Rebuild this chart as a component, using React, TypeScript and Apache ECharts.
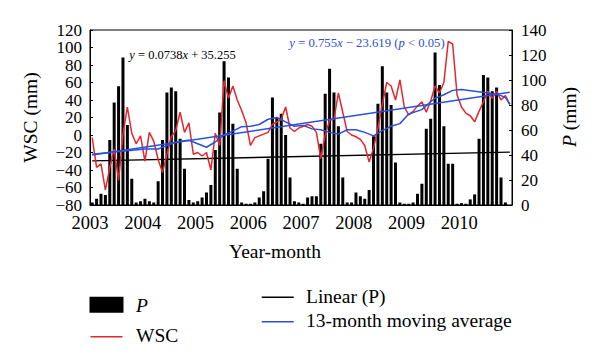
import React, { useEffect, useRef } from 'react';
import * as echarts from 'echarts';

// Year labels at the start of each year (months counted from Jan 2003)
const YEARS = ['2003', '2004', '2005', '2006', '2007', '2008', '2009', '2010'];

// Monthly precipitation P (mm), Jan 2003 – Dec 2010 (right axis)
const P_2003 = [2, 5, 9, 8, 52, 82, 95, 118, 64, 21, 2, 3];
const P_2004 = [5, 3, 2, 19, 52, 90, 94, 91, 53, 29, 4, 2];
const P_2005 = [3, 6, 10, 16, 44, 74, 115, 102, 65, 29, 2, 1];
const P_2006 = [1, 2, 6, 11, 37, 86, 70, 73, 56, 22, 3, 2];
const P_2007 = [1, 6, 7, 7, 49, 89, 109, 90, 63, 22, 2, 2];
const P_2008 = [10, 7, 5, 12, 55, 81, 111, 90, 80, 34, 2, 1];
const P_2009 = [1, 2, 9, 17, 61, 69, 122, 96, 63, 33, 33, 1];
const P_2010 = [1.5, 1, 4.5, 8.5, 53, 104, 102, 91, 94, 22, 2, 0];

// Monthly WSC (mm), Jan 2003 – Dec 2010 (left axis)
const WSC_2003 = [-3, -37, -33, -63, -37, -16, -52, 1, 32, 2, -10, -1];
const WSC_2004 = [-30, 3, -7, -28, -43, -22, -2, 5, 26, 3, 14, -22];
const WSC_2005 = [-20, -24, -20, -40, 2, -12, 62, 42, 56, 40, 28, 14];
const WSC_2006 = [-12, -3, -1, 1, 3, 12, 15, 18, 32, 8, 4, 8];
const WSC_2007 = [10, 12, 10, 3, -27, 0, 17, 18, 48, 26, 4, 0];
const WSC_2008 = [-2, -5, -12, -31, -15, 8, 35, 60, 56, 40, 63, 32];
const WSC_2009 = [23, 27, 33, 38, 26, 39, 56, 48, 60, 107, 104, 46];
const WSC_2010 = [32, 25, 22, 15, 27, 38, 50, 42, 50, 40, 45, 35];

// 13-month moving average of WSC, read at [month index, value]
const MOVING_AVG: [number, number][] = [
  [0, -22], [4, -20], [8, -18], [12, -16], [15, -16], [18, -10], [20, -7], [22, -6],
  [24, -10], [26, -14], [28, -8], [30, 0], [32, 4.5], [34, 9.5], [36, 10], [38, 12],
  [40, 18], [42, 20], [44, 15], [46, 10], [48, 11], [50, 7], [52, 6], [54, 3],
  [56, 1], [58, 6], [60, 6], [62, 3], [64, -1], [66, 5], [68, 10], [70, 13],
  [72, 24], [75, 29], [77, 38], [78, 42], [80, 46], [82, 51], [84, 52], [87, 50],
  [90, 48], [93, 45], [94, 43], [95, 35],
];

// Linear trends: end points [month index, value]
const LINEAR_P: [number, number][] = [[0, 35.3], [95, 42.3]];
const LINEAR_WSC: [number, number][] = [[0, -22.9], [95, 48.9]];

// Legend entries
const LEGEND_LEFT = ['P', 'WSC'];
const LEGEND_RIGHT = ['Linear (P)', '13-month moving average'];

const P_MM = [...P_2003, ...P_2004, ...P_2005, ...P_2006, ...P_2007, ...P_2008, ...P_2009, ...P_2010];
const WSC_MM = [...WSC_2003, ...WSC_2004, ...WSC_2005, ...WSC_2006, ...WSC_2007, ...WSC_2008, ...WSC_2009, ...WSC_2010];

const FONT = '"Liberation Serif", "Times New Roman", serif';
const BLUE = '#2B50D8';
const RED = '#E5262B';

const minus = (v: number) => (v < 0 ? '\u2212' + Math.abs(v) : String(v));

export default function App() {
  const ref = useRef<HTMLDivElement>(null);

  useEffect(() => {
    if (!ref.current) return;
    const chart = echarts.init(ref.current, null, { renderer: 'svg' });
    const mx = (i: number) => i + 0.5;

    const axisCommon = {
      axisLine: { show: true, onZero: false, lineStyle: { color: '#000', width: 1 } },
      axisTick: { show: true, inside: true, length: 3, lineStyle: { color: '#000' } },
      splitLine: { show: false },
    };
    const tickLabel = {
      color: '#000',
      fontFamily: FONT,
      fontSize: 17,
      lineHeight: 14,
      showMinLabel: true,
      showMaxLabel: true,
      hideOverlap: false,
    };

    const legendTextStyle = (text: string, x: number, y: number, italic = false) => ({
      type: 'text',
      x,
      y,
      style: {
        text,
        fill: '#000',
        fontFamily: FONT,
        fontSize: 19.5,
        fontStyle: italic ? 'italic' : 'normal',
        align: 'left',
        verticalAlign: 'middle',
      },
    });
    const legendLine = (x: number, y: number, color: string) => ({
      type: 'line',
      shape: { x1: x, y1: y, x2: x + 32, y2: y },
      style: { stroke: color, lineWidth: 1.5 },
    });

    chart.setOption({
      animation: false,
      backgroundColor: '#fff',
      grid: { left: 90, right: 88, top: 30, bottom: 158, show: true, borderColor: '#000', borderWidth: 1 },
      xAxis: {
        type: 'value',
        min: 0,
        max: 96,
        interval: 12,
        axisLine: { show: true, onZero: false, lineStyle: { color: '#000', width: 1 } },
        axisTick: { show: false },
        splitLine: { show: false },
        axisLabel: {
          color: '#000',
          fontFamily: FONT,
          fontSize: 18.5,
          margin: 8,
          formatter: (v: number) => YEARS[Math.round(v / 12)] ?? '',
        },
      },
      yAxis: [
        {
          type: 'value',
          min: -80,
          max: 120,
          interval: 20,
          position: 'left',
          ...axisCommon,
          axisLabel: { ...tickLabel, margin: 8, formatter: minus },
        },
        {
          type: 'value',
          min: 0,
          max: 140,
          interval: 20,
          position: 'right',
          ...axisCommon,
          axisLabel: { ...tickLabel, margin: 9 },
        },
      ],
      series: [
        {
          name: 'P',
          type: 'bar',
          yAxisIndex: 1,
          barWidth: 3,
          itemStyle: { color: '#000' },
          data: P_MM.map((v, i) => [mx(i), v]),
        },
        {
          name: 'Linear (P)',
          type: 'line',
          yAxisIndex: 1,
          symbol: 'none',
          color: '#000',
          lineStyle: { color: '#000', width: 1.5 },
          data: LINEAR_P.map(([i, v]) => [mx(i), v]),
        },
        {
          name: 'WSC',
          type: 'line',
          yAxisIndex: 0,
          symbol: 'none',
          color: RED,
          lineStyle: { color: RED, width: 1.5 },
          data: WSC_MM.map((v, i) => [mx(i), v]),
        },
        {
          name: '13-month moving average',
          type: 'line',
          yAxisIndex: 0,
          symbol: 'none',
          color: BLUE,
          lineStyle: { color: BLUE, width: 1.5 },
          data: MOVING_AVG.map(([i, v]) => [mx(i), v]),
        },
        {
          name: 'Linear (WSC)',
          type: 'line',
          yAxisIndex: 0,
          symbol: 'none',
          color: BLUE,
          lineStyle: { color: BLUE, width: 1.5 },
          data: LINEAR_WSC.map(([i, v]) => [mx(i), v]),
        },
      ],
      graphic: [
        {
          type: 'text',
          x: 30,
          y: 117.5,
          rotation: Math.PI / 2,
          style: {
            text: 'WSC (mm)',
            fill: '#000',
            fontFamily: FONT,
            fontSize: 19.5,
            align: 'center',
            verticalAlign: 'middle',
          },
        },
        {
          type: 'text',
          x: 569,
          y: 117,
          rotation: Math.PI / 2,
          style: {
            text: '{i|P} (mm)',
            fill: '#000',
            fontFamily: FONT,
            fontSize: 19.5,
            align: 'center',
            verticalAlign: 'middle',
            rich: { i: { fontStyle: 'italic', fontFamily: FONT, fontSize: 19.5, fill: '#000' } },
          },
        },
        {
          type: 'text',
          x: 275,
          y: 251.7,
          style: {
            text: 'Year-month',
            fill: '#000',
            fontFamily: FONT,
            fontSize: 19.5,
            align: 'center',
            verticalAlign: 'middle',
          },
        },
        {
          type: 'text',
          x: 182.5,
          y: 55,
          z: 100,
          style: {
            text: '{i|y} = 0.0738{i|x} + 35.255',
            fill: '#000',
            fontFamily: FONT,
            fontSize: 12.5,
            align: 'center',
            verticalAlign: 'middle',
            rich: { i: { fontStyle: 'italic', fontFamily: FONT, fontSize: 12.5, fill: '#000' } },
          },
        },
        {
          type: 'text',
          x: 367,
          y: 43.3,
          z: 100,
          style: {
            text: '{i|y} = 0.755{i|x} \u2212 23.619 ({i|p} < 0.05)',
            fill: BLUE,
            fontFamily: FONT,
            fontSize: 12.7,
            align: 'center',
            verticalAlign: 'middle',
            rich: { i: { fontStyle: 'italic', fontFamily: FONT, fontSize: 12.7, fill: BLUE } },
          },
        },
        // Legend (left column)
        { type: 'rect', shape: { x: 89.5, y: 296.7, width: 34, height: 16 }, style: { fill: '#000' } },
        legendTextStyle(LEGEND_LEFT[0], 136, 305.5, true),
        legendLine(90.5, 336.7, RED),
        legendTextStyle(LEGEND_LEFT[1], 136, 335.5),
        // Legend (right column)
        legendLine(261.7, 297.3, '#000'),
        legendTextStyle(LEGEND_RIGHT[0], 306, 296.7),
        legendLine(261.7, 321.7, BLUE),
        legendTextStyle(LEGEND_RIGHT[1], 306, 320.5),
      ],
    });

    return () => chart.dispose();
  }, []);

  return (
    <div
      ref={ref}
      style={{ position: 'fixed', left: 0, top: 0, width: 600, height: 363, background: '#fff' }}
    />
  );
}
